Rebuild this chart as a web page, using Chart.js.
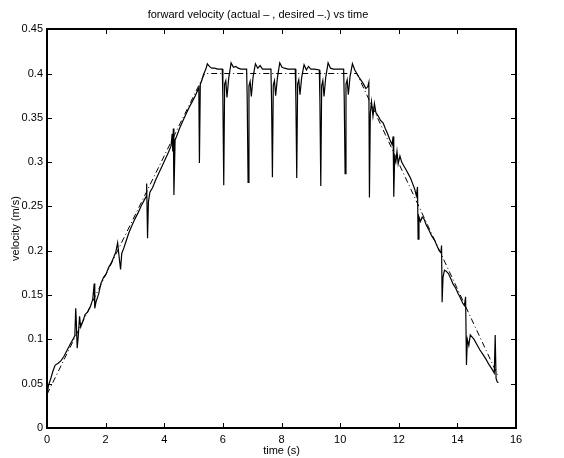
<!DOCTYPE html>
<html>
<head>
<meta charset="utf-8">
<script src="https://cdn.jsdelivr.net/npm/chart.js@4.4.1/dist/chart.umd.min.js"></script>
<style>
  html, body { margin: 0; padding: 0; background: #fff; }
  #wrap { width: 564px; height: 458px; }
</style>
</head>
<body>
<div id="wrap"><canvas id="c" width="564" height="458"></canvas></div>
<script>
// ---- data ----
const chartTitle = 'forward velocity (actual \u2013 , desired \u2013.) vs time';
const xTitle = 'time (s)';
const yTitle = 'velocity (m/s)';

const xTickValues = [0, 2, 4, 6, 8, 10, 12, 14, 16];
const yTickLabels = ['0', '0.05', '0.1', '0.15', '0.2', '0.25', '0.3', '0.35', '0.4', '0.45'];

// desired profile (dash-dot)
const tDesired = [0, 5.38, 10.57, 15.37];
const vDesired = [0.038, 0.400, 0.400, 0.060];

// actual measured velocity (solid)
const tActual = [
  0.00,0.05,0.13,0.20,0.28,0.38,0.48,0.58,0.69,0.80,0.90,0.95,0.98,
  1.00,1.03,1.07,1.11,1.15,1.22,1.30,1.39,1.48,1.56,1.61,1.63,1.67,1.76,1.84,1.93,
  2.02,2.10,2.19,2.28,2.35,2.41,2.45,2.51,2.55,2.62,2.70,2.79,2.89,
  3.00,3.11,3.22,3.33,3.38,3.40,3.43,3.46,3.51,3.60,3.71,3.82,3.92,
  4.03,4.14,4.23,4.27,4.29,4.31,4.33,4.37,4.42,4.52,4.63,4.74,4.84,4.95,
  5.06,5.14,5.18,5.20,5.23,5.28,5.34,5.42,5.47,5.54,5.62,5.72,5.82,5.98,
  6.00,6.03,6.06,6.10,6.14,6.20,6.28,6.36,6.44,6.52,6.62,6.81,6.83,6.86,6.89,6.93,6.97,
  7.03,7.11,7.19,7.27,7.35,7.47,7.64,7.66,7.69,7.72,7.76,7.80,7.86,7.94,
  8.02,8.10,8.22,8.47,8.49,8.52,8.55,8.59,8.63,8.69,8.77,8.85,8.92,
  9.00,9.12,9.29,9.31,9.34,9.37,9.41,9.45,9.51,9.59,9.67,9.77,9.92,
  10.12,10.14,10.17,10.20,10.24,10.28,10.34,10.42,10.50,10.57,10.64,10.72,10.80,10.88,10.94,10.98,
  11.00,11.03,11.07,11.12,11.17,11.22,11.30,11.38,11.47,11.54,11.62,11.70,11.77,11.81,11.83,11.86,11.90,11.94,11.98,
  12.04,12.10,12.17,12.24,12.32,12.40,12.47,12.54,12.60,12.64,12.66,12.69,12.74,12.80,12.86,12.94,
  13.02,13.12,13.22,13.30,13.38,13.44,13.46,13.48,13.51,13.56,13.62,13.70,13.78,13.86,13.94,
  14.02,14.10,14.18,14.24,14.28,14.31,14.34,14.39,14.44,14.52,14.57,14.67,14.77,14.87,14.97,
  15.07,15.17,15.26,15.29,15.32,15.36,15.40
];
const vActual = [
  0.036,0.048,0.056,0.064,0.071,0.073,0.076,0.081,0.088,0.095,0.101,0.104,0.135,
  0.120,0.090,0.105,0.126,0.114,0.120,0.128,0.131,0.137,0.145,0.163,0.135,0.142,0.151,0.163,0.170,
  0.174,0.181,0.186,0.193,0.199,0.209,0.196,0.179,0.197,0.203,0.211,0.220,0.228,
  0.236,0.243,0.251,0.258,0.261,0.276,0.214,0.255,0.266,0.271,0.280,0.288,0.295,
  0.303,0.311,0.318,0.332,0.312,0.338,0.263,0.325,0.329,0.338,0.346,0.354,0.361,0.368,
  0.375,0.381,0.384,0.299,0.388,0.392,0.399,0.405,0.411,0.408,0.406,0.406,0.405,0.405,
  0.372,0.274,0.388,0.392,0.373,0.395,0.412,0.407,0.408,0.406,0.405,0.405,0.372,0.277,0.386,0.391,0.374,
  0.396,0.411,0.406,0.409,0.405,0.405,0.405,0.371,0.283,0.387,0.392,0.375,0.395,0.412,
  0.407,0.406,0.405,0.405,0.372,0.282,0.388,0.393,0.376,0.396,0.410,0.404,0.408,
  0.405,0.405,0.404,0.370,0.273,0.386,0.392,0.374,0.396,0.412,0.406,0.405,0.405,
  0.405,0.372,0.287,0.388,0.393,0.376,0.397,0.411,0.404,0.400,0.396,0.392,0.388,0.383,0.385,0.390,
  0.260,0.355,0.368,0.352,0.366,0.356,0.352,0.347,0.344,0.338,0.332,0.325,0.320,0.329,0.261,0.305,0.300,0.312,0.298,
  0.307,0.300,0.296,0.292,0.287,0.282,0.276,0.270,0.262,0.272,0.213,0.238,0.233,0.238,0.236,0.229,
  0.224,0.217,0.212,0.206,0.200,0.198,0.206,0.142,0.170,0.178,0.177,0.174,0.168,0.162,0.158,
  0.152,0.147,0.141,0.138,0.148,0.071,0.100,0.093,0.105,0.102,0.100,0.094,0.088,0.083,0.078,
  0.072,0.067,0.062,0.105,0.056,0.052,0.051
];

const actualPts = tActual.map((t, i) => ({ x: t, y: vActual[i] }));
const desiredPts = tDesired.map((t, i) => ({ x: t, y: vDesired[i] }));

const FONT = 'Liberation Sans, Arial, Helvetica, sans-serif';

// white background, box and inward ticks (MATLAB style)
const matlabAxes = {
  id: 'matlabAxes',
  beforeDraw(chart) {
    const ctx = chart.ctx;
    ctx.save();
    ctx.fillStyle = '#fff';
    ctx.fillRect(0, 0, chart.width, chart.height);
    ctx.restore();
  },
  afterDraw(chart) {
    const { ctx, chartArea: a, scales: { x, y } } = chart;
    const L = Math.round(a.left), R = Math.round(a.right);
    const T = Math.round(a.top), B = Math.round(a.bottom);
    const len = 5;
    ctx.save();
    ctx.strokeStyle = '#000';
    // box
    ctx.lineWidth = 2;
    ctx.strokeRect(L, T, R - L, B - T);
    // inward ticks
    ctx.lineWidth = 1;
    ctx.beginPath();
    x.ticks.forEach(tk => {
      const px = Math.round(x.getPixelForValue(tk.value)) + 0.5;
      ctx.moveTo(px, B); ctx.lineTo(px, B - len);
      ctx.moveTo(px, T); ctx.lineTo(px, T + len);
    });
    y.ticks.forEach(tk => {
      const py = Math.round(y.getPixelForValue(tk.value)) + 0.5;
      ctx.moveTo(L, py); ctx.lineTo(L + len, py);
      ctx.moveTo(R, py); ctx.lineTo(R - len, py);
    });
    ctx.stroke();
    ctx.restore();
  }
};

new Chart(document.getElementById('c'), {
  type: 'line',
  data: {
    datasets: [
      {
        label: 'actual',
        data: actualPts,
        borderColor: '#000',
        borderWidth: 1.2,
        pointRadius: 0,
        tension: 0,
        fill: false
      },
      {
        label: 'desired',
        data: desiredPts,
        borderColor: '#000',
        borderWidth: 1,
        borderDash: [6, 3, 1, 3],
        pointRadius: 0,
        tension: 0,
        fill: false
      }
    ]
  },
  options: {
    responsive: false,
    devicePixelRatio: 1,
    animation: false,
    layout: { padding: { left: 0, right: 48, top: 0, bottom: 0 } },
    plugins: {
      legend: { display: false },
      tooltip: { enabled: false },
      title: {
        display: true,
        text: chartTitle,
        color: '#000',
        font: { family: FONT, size: 11, weight: 'normal' },
        padding: { top: 8, bottom: 8 }
      }
    },
    scales: {
      x: {
        type: 'linear',
        min: 0, max: 16,
        afterBuildTicks(s) { s.ticks = xTickValues.map(v => ({ value: v })); },
        afterFit(s) { s.height = 30; },
        grid: { display: false, drawTicks: false },
        border: { display: false },
        ticks: {
          color: '#000', padding: 5, maxRotation: 0, autoSkip: false,
          font: { family: FONT, size: 11 },
          callback: (v) => String(v)
        },
        title: {
          display: true, text: xTitle, color: '#000',
          font: { family: FONT, size: 11 },
          padding: { top: 0, bottom: 0 }
        }
      },
      y: {
        type: 'linear',
        min: 0, max: 0.45,
        afterBuildTicks(s) { s.ticks = yTickLabels.map(l => ({ value: parseFloat(l) })); },
        afterFit(s) { s.width = 47; },
        grid: { display: false, drawTicks: false },
        border: { display: false },
        ticks: {
          color: '#000', padding: 4, autoSkip: false,
          font: { family: FONT, size: 11 },
          callback: (v, i) => yTickLabels[i]
        },
        title: {
          display: true, text: yTitle, color: '#000',
          font: { family: FONT, size: 11 },
          padding: { top: 9, bottom: 0 }
        }
      }
    }
  },
  plugins: [matlabAxes]
});
</script>
</body>
</html>
